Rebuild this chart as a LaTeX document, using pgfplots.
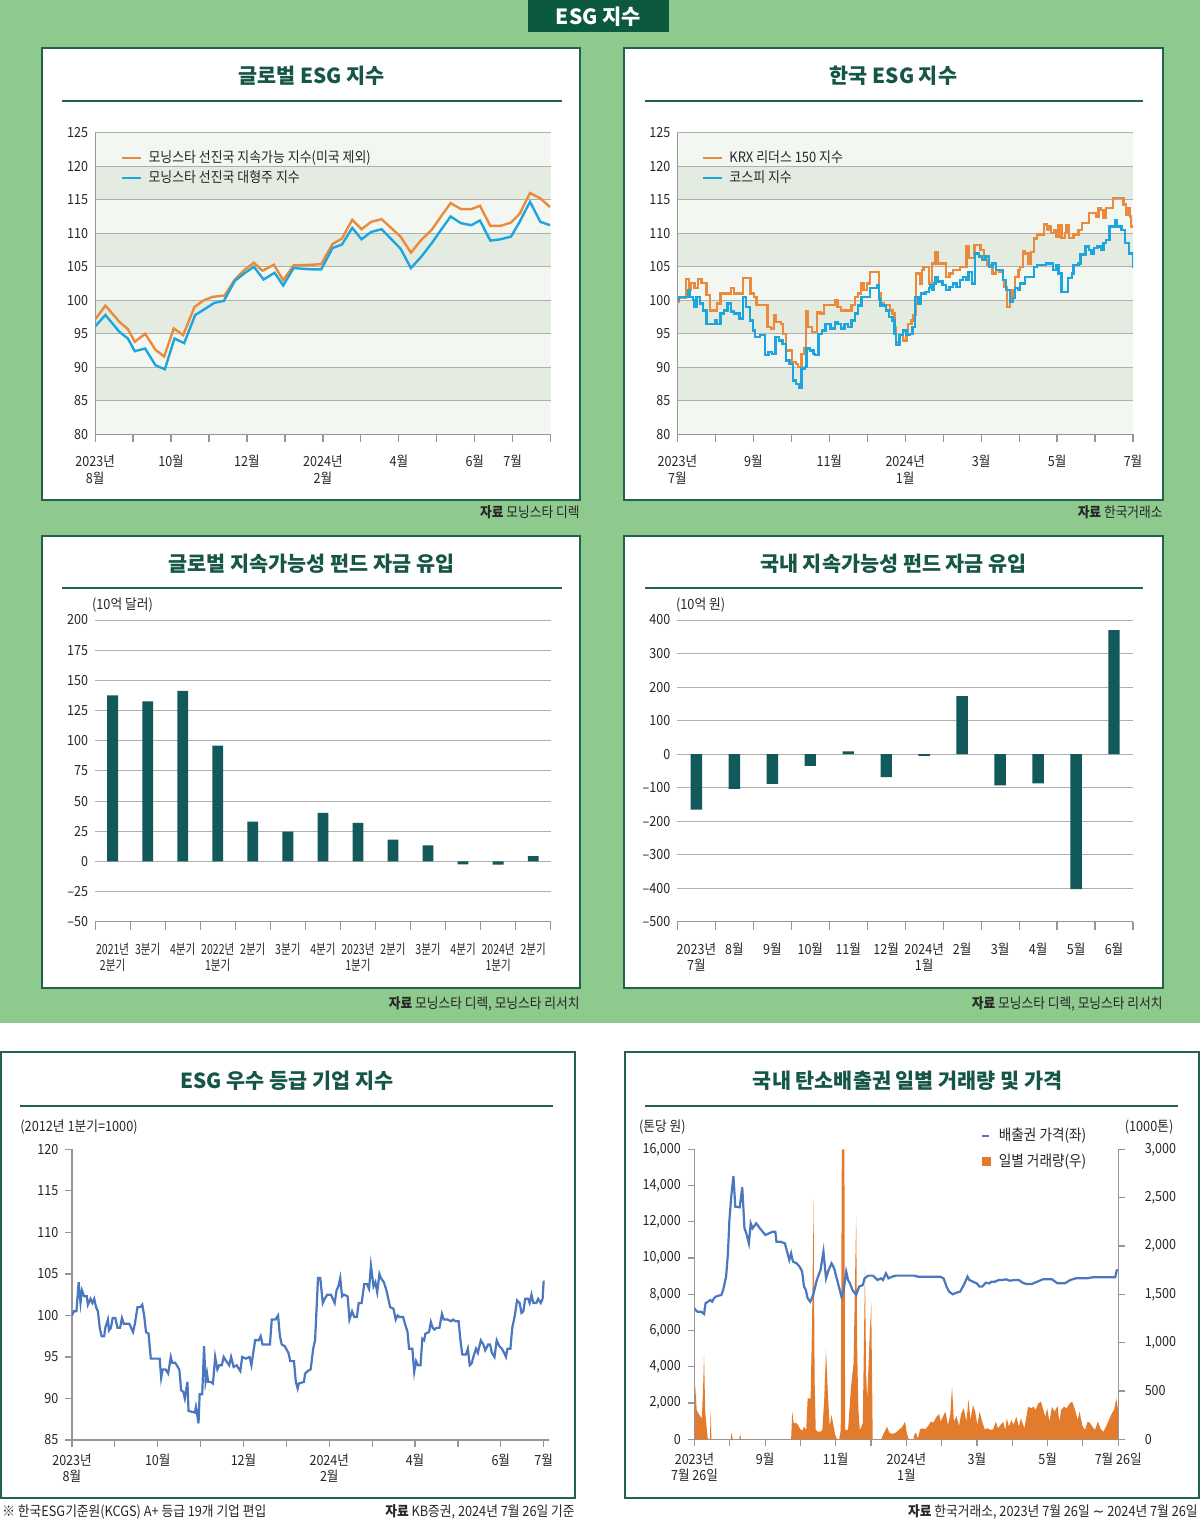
\documentclass[border=0pt]{standalone}
\usepackage{fontspec}
\setmainfont{Noto Sans CJK KR}[FakeStretch=0.9]
\newfontfamily\titlefont{Noto Sans CJK KR}
\newfontfamily\djv{DejaVu Sans}
\usepackage{pgfplots}
\pgfplotsset{compat=1.18}

\definecolor{bggreen}{RGB}{142,201,142}
\definecolor{hdgreen}{RGB}{12,90,62}
\definecolor{ttlgreen}{RGB}{22,86,70}
\definecolor{bordergreen}{RGB}{35,99,77}
\definecolor{barteal}{RGB}{18,89,91}
\definecolor{lineorange}{RGB}{233,138,60}
\definecolor{linecyan}{RGB}{29,166,221}
\definecolor{lineblue}{RGB}{74,119,191}
\definecolor{areaorange}{RGB}{226,123,43}
\definecolor{bandA}{RGB}{243,247,241}
\definecolor{bandB}{RGB}{228,236,226}
\definecolor{gridgray}{RGB}{175,175,175}
\definecolor{axgray}{RGB}{150,150,150}

\newcommand{\tk}{\fontsize{7}{8.2}\selectfont}
\newcommand{\src}{\fontsize{7.1}{8}\selectfont}

\pgfplotsset{
 base/.style={scale only axis, anchor=north west,
   /pgf/number format/assume math mode=true,
   tick label style={font=\tk, text=black!85},
   xticklabel style={align=center},
   axis line style={-, axgray, line width=0.6bp},
   tick style={axgray, line width=0.6bp},
   major tick length=4bp,
   xtick align=outside,
   ytick align=inside,
   grid style={gridgray, line width=0.5bp},
 },
 lgd/.style={
   legend style={draw=none, fill=none, anchor=north west,
     font=\fontsize{7.2}{8}\selectfont, row sep=0.2bp, inner sep=0pt,
     nodes={inner sep=1.2bp}, text=black!85,
     /tikz/every odd column/.append style={column sep=2bp}},
   legend cell align=left,
   legend image code/.code={\draw[##1, line width=1.3bp] (0bp,0bp) -- (9.5bp,0bp);},
 },
 bands/.style={scale only axis, anchor=north west, hide axis},
}

\begin{document}
\begin{tikzpicture}
\fill[white] (0,0) rectangle (600bp,-760bp);
\fill[bggreen] (0,0) rectangle (600bp,-511.5bp);

% header
\fill[hdgreen] (264bp,0bp) rectangle (334.5bp,-16bp);
\node[text=white, font=\titlefont\bfseries\fontsize{10.5}{12}\selectfont] at (299.25bp,-8.3bp) {ESG 지수};

% panels
\begin{scope}[draw=bordergreen, line width=1bp, fill=white]
\filldraw (21bp,-24bp) rectangle (290bp,-250bp);
\filldraw (312bp,-24bp) rectangle (581.5bp,-250bp);
\filldraw (21bp,-268bp) rectangle (290bp,-494bp);
\filldraw (312bp,-268bp) rectangle (581.5bp,-494bp);
\filldraw (0.5bp,-526bp) rectangle (287.5bp,-749bp);
\filldraw (312.5bp,-526bp) rectangle (599.5bp,-749bp);
\end{scope}

% titles
\begin{scope}[every node/.style={text=ttlgreen, font=\titlefont\bfseries\fontsize{10.4}{12}\selectfont}]
\node at (155.8bp,-38bp) {글로벌 ESG 지수};
\node at (446.75bp,-38bp) {한국 ESG 지수};
\node at (155.8bp,-282bp) {글로벌 지속가능성 펀드 자금 유입};
\node at (446.75bp,-282bp) {국내 지속가능성 펀드 자금 유입};
\node at (143.4bp,-540.5bp) {ESG 우수 등급 기업 지수};
\node at (453.9bp,-540.5bp) {국내 탄소배출권 일별 거래량 및 가격};
\end{scope}
\begin{scope}[draw=bordergreen, line width=0.8bp]
\draw (31bp,-50.35bp) -- (281bp,-50.35bp);
\draw (322.5bp,-50.35bp) -- (571.5bp,-50.35bp);
\draw (31bp,-294bp) -- (281bp,-294bp);
\draw (322.5bp,-294bp) -- (571.5bp,-294bp);
\draw (10bp,-553bp) -- (276.5bp,-553bp);
\draw (322.5bp,-553bp) -- (589bp,-553bp);
\end{scope}

% sources
\begin{scope}[every node/.style={font=\src, text=black!85, inner sep=0pt}]
\node[anchor=east] at (290bp,-256bp) {\textbf{자료} 모닝스타 디렉};
\node[anchor=east] at (581.5bp,-256bp) {\textbf{자료} 한국거래소};
\node[anchor=east] at (290bp,-502bp) {\textbf{자료} 모닝스타 디렉, 모닝스타 리서치};
\node[anchor=east] at (581.5bp,-502bp) {\textbf{자료} 모닝스타 디렉, 모닝스타 리서치};
\node[anchor=west] at (1bp,-756bp) {※ 한국ESG기준원(KCGS) A+ 등급 19개 기업 편입};
\node[anchor=east] at (287.5bp,-756bp) {\textbf{자료} KB증권, 2024년 7월 26일 기준};
\node[anchor=east] at (599bp,-756bp) {\textbf{자료} 한국거래소, 2023년 7월 26일 {\djv ∼} 2024년 7월 26일};
\end{scope}

% unit labels
\begin{scope}[every node/.style={font=\src, text=black!85, inner sep=0pt, anchor=west}]
\node at (45.85bp,-302.5bp) {(10억 달러)};
\node at (337.85bp,-302.5bp) {(10억 원)};
\node at (10bp,-563.3bp) {(2012년 1분기=1000)};
\node at (319.35bp,-563.35bp) {(톤당 원)};
\node at (562.2bp,-563.35bp) {(1000톤)};
\end{scope}

%================ Panel 1 =================
\begin{axis}[bands, at={(47.55bp,-66.35bp)}, width=227.8bp, height=150.8bp,
  xmin=160, xmax=1480, ymin=80, ymax=125]
\fill[bandA] (axis cs:160,80) rectangle (axis cs:1480,125);
\fill[bandB] (axis cs:160,85) rectangle (axis cs:1480,90);
\fill[bandB] (axis cs:160,95) rectangle (axis cs:1480,100);
\fill[bandB] (axis cs:160,105) rectangle (axis cs:1480,110);
\fill[bandB] (axis cs:160,115) rectangle (axis cs:1480,120);
\end{axis}
\begin{axis}[base, lgd,
  at={(47.55bp,-66.35bp)}, width=227.8bp, height=150.8bp,
  xmin=160, xmax=1480, ymin=80, ymax=125,
  axis lines*=left, tick pos=left,
  xtick={160,270,380,490,600,710,820,930,1040,1150,1260,1370,1480},
  xticklabels={{2023년\\8월},,{10월},,{12월},,{2024년\\2월},,{4월},,{6월},{7월},},
  xticklabel style={yshift=-3bp},
  ytick={80,85,...,125}, ytick style={draw=none},
  ymajorgrids,
  legend style={at={(0.055,0.95)}},
]
\addplot[lineorange, line width=1.2bp] coordinates {
(160,97.15)(190,99.2)(230,96.8)(255,95.7)(275,93.8)(305,95.0)(335,92.6)(360,91.6)(388,95.8)(415,94.8)(448,99.0)(475,100.0)(500,100.5)(535,100.7)(565,103.1)(592,104.5)(620,105.6)(645,104.4)(678,105.3)(705,103.0)(735,105.2)(790,105.3)(815,105.4)(848,108.4)(875,109.2)(905,112.0)(932,110.6)(960,111.7)(990,112.1)(1045,109.5)(1075,107.1)(1105,109.0)(1135,110.5)(1165,112.7)(1190,114.5)(1220,113.6)(1250,113.6)(1275,114.1)(1305,111.1)(1335,111.1)(1365,111.6)(1390,112.9)(1420,116.0)(1450,115.2)(1478,113.9)};
\addlegendentry{모닝스타 선진국 지속가능 지수(미국 제외)}
\addplot[linecyan, line width=1.2bp] coordinates {
(160,96.1)(190,97.8)(230,95.3)(255,94.3)(275,92.4)(305,92.8)(335,90.3)(362,89.7)(390,94.3)(418,93.6)(450,97.8)(475,98.6)(505,99.6)(533,99.9)(565,102.9)(592,104.0)(620,105.0)(648,103.1)(680,104.1)(705,102.2)(735,104.8)(790,104.6)(815,104.6)(848,107.8)(875,108.3)(905,110.8)(932,109.1)(960,110.2)(990,110.6)(1045,107.7)(1075,104.8)(1105,106.5)(1135,108.5)(1165,110.7)(1190,112.5)(1220,111.5)(1250,111.2)(1275,111.9)(1305,108.9)(1335,109.1)(1365,109.5)(1390,111.7)(1420,114.7)(1450,111.7)(1478,111.2)};
\addlegendentry{모닝스타 선진국 대형주 지수}
\end{axis}

%================ Panel 2 =================
\begin{axis}[bands, at={(338.7bp,-66.35bp)}, width=227.8bp, height=150.8bp,
  xmin=155, xmax=1478, ymin=80, ymax=125]
\fill[bandA] (axis cs:155,80) rectangle (axis cs:1478,125);
\fill[bandB] (axis cs:155,85) rectangle (axis cs:1478,90);
\fill[bandB] (axis cs:155,95) rectangle (axis cs:1478,100);
\fill[bandB] (axis cs:155,105) rectangle (axis cs:1478,110);
\fill[bandB] (axis cs:155,115) rectangle (axis cs:1478,120);
\end{axis}
\begin{axis}[base, lgd,
  at={(338.7bp,-66.35bp)}, width=227.8bp, height=150.8bp,
  xmin=155, xmax=1478, ymin=80, ymax=125,
  axis lines*=left, tick pos=left,
  xtick={155,265.25,375.5,485.75,596,706.25,816.5,926.75,1037,1147.25,1257.5,1367.75,1478},
  xticklabels={{2023년\\7월},,{9월},,{11월},,{2024년\\1월},,{3월},,{5월},,{7월}},
  xticklabel style={yshift=-3bp},
  ytick={80,85,...,125}, ytick style={draw=none},
  ymajorgrids,
  legend style={at={(0.052,0.95)}},
]
\addplot[lineorange, line width=1.2bp, const plot] coordinates {
(155,99.8)(160,100.3)(172,100.3)(180,103.2)(188,101.5)(195,102.6)(205,101.8)(215,103.2)(225,102.6)(235,102.6)(240,100.8)(250,98.5)(262,98.5)(270,99.5)(280,101.0)(300,101.0)(310,101.8)(320,101.0)(335,101.0)(345,103.3)(362,103.3)(367,101.0)(377,100.5)(385,99.3)(412,99.3)(417,96.0)(427,95.8)(435,97.8)(440,96.8)(455,96.5)(461,95.0)(470,92.5)(482,92.5)(488,90.8)(500,90.5)(506,90.0)(515,92.0)(522,92.8)(528,98.3)(535,96.0)(545,95.3)(556,95.3)(561,98.2)(570,98.0)(580,99.3)(602,99.3)(612,100.0)(620,99.0)(630,98.5)(655,98.5)(660,99.3)(670,100.5)(680,101.0)(688,102.5)(695,101.5)(705,102.5)(715,104.2)(735,104.2)(740,101.0)(745,99.5)(755,99.3)(767,99.3)(772,98.5)(780,98.0)(785,96.0)(790,93.7)(800,94.8)(810,94.0)(820,95.0)(825,96.5)(835,97.0)(840,97.8)(848,104.0)(856,104.0)(860,102.5)(865,104.5)(870,105.0)(882,105.0)(886,102.5)(895,105.5)(905,107.2)(912,105.5)(925,105.5)(935,103.5)(945,104.0)(955,104.5)(966,104.5)(975,105.0)(985,105.0)(995,108.0)(1000,106.3)(1010,106.3)(1018,108.2)(1030,108.2)(1035,107.5)(1045,106.0)(1055,105.3)(1065,105.0)(1070,104.0)(1080,104.5)(1090,104.2)(1100,103.0)(1105,102.0)(1112,99.0)(1120,100.0)(1125,101.5)(1130,100.5)(1135,103.5)(1145,104.5)(1150,105.0)(1158,107.3)(1165,107.0)(1175,105.5)(1182,107.2)(1190,109.2)(1200,109.8)(1215,109.8)(1220,111.3)(1228,110.5)(1235,111.0)(1240,110.0)(1250,110.5)(1255,109.5)(1262,111.2)(1270,109.3)(1280,110.0)(1285,111.2)(1292,109.3)(1305,109.8)(1315,109.8)(1320,110.5)(1330,111.5)(1345,111.5)(1350,113.0)(1360,113.0)(1370,112.5)(1378,113.8)(1385,113.5)(1392,112.3)(1400,113.8)(1410,113.8)(1420,115.3)(1440,115.3)(1450,114.3)(1458,112.8)(1465,113.8)(1470,112.5)(1473,111.0)(1478,110.8)};
\addlegendentry{KRX 리더스 150 지수}
\addplot[linecyan, line width=1.2bp, const plot] coordinates {
(155,100.0)(160,100.5)(175,100.5)(185,101.5)(190,100.5)(200,100.0)(205,99.0)(210,100.5)(220,99.5)(230,98.5)(240,96.5)(260,96.5)(265,97.0)(270,96.5)(280,98.0)(290,98.5)(300,99.5)(310,98.3)(320,98.0)(335,97.3)(345,100.5)(355,99.0)(365,97.0)(375,95.5)(380,94.5)(395,94.8)(405,94.8)(410,91.8)(420,92.3)(430,92.0)(440,94.5)(450,94.0)(460,93.5)(470,91.0)(480,90.5)(490,88.0)(500,87.5)(508,87.0)(515,89.8)(525,90.0)(530,92.8)(540,92.5)(550,92.0)(555,91.8)(565,95.0)(575,95.5)(585,96.5)(600,95.8)(612,96.8)(620,96.5)(630,95.8)(640,96.5)(650,96.0)(660,97.0)(670,98.0)(680,99.2)(690,100.5)(705,100.5)(715,101.8)(735,102.3)(740,100.2)(745,99.2)(760,98.5)(770,97.5)(780,97.0)(785,95.0)(790,93.3)(800,94.8)(810,95.5)(820,94.8)(830,95.0)(838,96.0)(845,100.5)(855,99.5)(862,101.0)(875,101.2)(885,101.8)(890,102.3)(895,101.5)(900,102.5)(905,103.5)(912,102.8)(925,102.3)(935,101.5)(945,102.0)(955,102.5)(965,102.0)(975,103.0)(985,103.5)(995,103.0)(1000,104.2)(1010,102.5)(1020,107.0)(1030,106.5)(1040,106.0)(1050,106.5)(1060,105.0)(1070,105.5)(1080,104.5)(1090,104.5)(1100,103.0)(1110,101.5)(1120,99.8)(1130,100.3)(1135,101.8)(1145,101.5)(1150,102.5)(1165,103.5)(1180,103.5)(1190,105.0)(1200,105.3)(1215,105.3)(1225,105.5)(1235,105.5)(1245,104.5)(1255,105.2)(1262,104.0)(1270,101.2)(1282,101.2)(1290,103.3)(1300,104.0)(1305,105.3)(1320,105.5)(1325,106.8)(1335,106.8)(1340,108.0)(1350,107.5)(1358,107.0)(1365,107.8)(1375,108.0)(1385,107.6)(1392,108.5)(1400,109.0)(1410,111.0)(1420,111.0)(1425,112.0)(1432,111.0)(1445,110.5)(1455,108.5)(1462,108.5)(1467,107.0)(1472,107.0)(1478,104.8)};
\addlegendentry{코스피 지수}
\end{axis}

%================ Panel 3 =================
\begin{axis}[base,
  at={(47.55bp,-310bp)}, width=227.8bp, height=150.85bp,
  xmin=-0.5, xmax=12.5, ymin=-50, ymax=200,
  axis lines*=left, tick pos=left, y axis line style={draw=none},
  xtick={0,...,12},
  xticklabels={{2021년\\2분기},{3분기},{4분기},{2022년\\1분기},{2분기},{3분기},{4분기},{2023년\\1분기},{2분기},{3분기},{4분기},{2024년\\1분기},{2분기}},
  xticklabel style={xscale=0.84, yshift=-3bp},
  major tick style={draw=none},
  minor xtick={-0.5,0.5,...,12.5}, minor tick length=4bp,
  minor tick style={draw=axgray, line width=0.6bp},
  ytick={-50,-25,...,200},
  yticklabels={–50,–25,0,25,50,75,100,125,150,175,200},
  ymajorgrids,
]
\addplot[ybar, bar width=5.4bp, fill=barteal, draw=none] coordinates {
(0,137.6)(1,132.6)(2,141.2)(3,95.9)(4,32.9)(5,24.6)(6,40.1)(7,31.8)(8,18.0)(9,13.3)(10,-2.5)(11,-2.8)(12,4.4)};
\end{axis}

%================ Panel 4 =================
\begin{axis}[base,
  at={(338.7bp,-310bp)}, width=227.8bp, height=150.85bp,
  xmin=-0.5, xmax=11.5, ymin=-500, ymax=400,
  axis lines*=left, tick pos=left, y axis line style={draw=none},
  xtick={0,...,11},
  xticklabels={{2023년\\7월},{8월},{9월},{10월},{11월},{12월},{2024년\\1월},{2월},{3월},{4월},{5월},{6월}},
  xticklabel style={yshift=-3bp},
  major tick style={draw=none},
  minor xtick={-0.5,0.5,...,11.5}, minor tick length=4bp,
  minor tick style={draw=axgray, line width=0.6bp},
  ytick={-500,-400,...,400},
  yticklabels={–500,–400,–300,–200,–100,0,100,200,300,400},
  ymajorgrids,
]
\addplot[ybar, bar width=5.7bp, fill=barteal, draw=none] coordinates {
(0,-166)(1,-104)(2,-89)(3,-35)(4,8)(5,-69)(6,-5)(7,173)(8,-93)(9,-87)(10,-403)(11,370)};
\end{axis}

%================ Panel 5 =================
\begin{axis}[base,
  at={(36bp,-574.65bp)}, width=238.25bp, height=145.35bp,
  xmin=195, xmax=1483, ymin=85, ymax=120,
  axis lines*=left, tick pos=left,
  xtick={195,310.9,426.8,542.7,658.6,774.5,890.4,1006.3,1122.2,1238.1,1354,1469.9},
  xticklabels={{2023년\\8월},,{10월},,{12월},,{2024년\\2월},,{4월},,{6월},{7월}},
  ytick={85,90,...,120}, ytick align=outside,
  major tick length=3.3bp,
]
\addplot[lineblue, line width=1.1bp] coordinates {
(195,100.0)(200,100.5)(207,100.5)(213,104.0)(218,101.5)(222,103.0)(228,102.3)(235,102.3)(238,101.3)(245,102.0)(250,101.5)(255,102.0)(260,101.0)(265,100.5)(270,98.5)(275,97.5)(282,97.5)(285,98.5)(292,99.5)(295,98.2)(300,98.5)(305,99.7)(312,99.7)(318,98.5)(325,98.5)(330,99.7)(335,99.0)(350,99.0)(360,98.0)(365,99.0)(372,101.0)(380,101.0)(385,101.3)(390,100.0)(395,98.0)(402,97.8)(408,94.8)(432,94.8)(436,92.5)(440,93.5)(448,93.5)(455,93.0)(462,95.0)(466,94.3)(474,94.3)(485,93.5)(490,91.0)(496,90.8)(500,90.0)(507,92.0)(510,88.5)(527,88.3)(530,89.0)(537,87.0)(540,90.5)(547,90.5)(552,96.3)(556,92.0)(560,93.0)(563,92.0)(570,92.0)(576,91.8)(582,95.0)(588,93.5)(593,94.0)(600,94.0)(605,95.0)(612,94.5)(620,94.0)(625,95.0)(632,93.8)(640,94.0)(650,93.3)(655,95.0)(665,94.8)(675,95.0)(680,94.0)(690,97.0)(700,97.0)(705,97.5)(710,96.5)(730,96.5)(735,99.5)(745,99.5)(752,100.0)(757,97.5)(762,96.5)(770,96.3)(780,95.5)(785,94.5)(795,94.5)(800,92.0)(805,91.2)(808,91.8)(822,92.0)(825,93.0)(832,93.3)(840,93.5)(847,96.0)(852,97.0)(860,104.5)(866,104.5)(873,101.5)(878,102.0)(885,102.5)(895,102.5)(900,102.0)(905,101.5)(910,103.0)(915,103.5)(920,104.5)(925,102.3)(930,102.5)(940,102.3)(945,99.5)(952,100.5)(958,99.8)(965,99.8)(970,101.5)(978,101.5)(985,103.8)(992,103.8)(998,103.2)(1003,106.0)(1010,103.5)(1015,104.0)(1020,102.8)(1026,105.0)(1030,104.5)(1038,104.0)(1045,103.0)(1050,102.0)(1055,101.0)(1064,100.8)(1070,99.5)(1075,100.0)(1080,99.8)(1090,99.8)(1095,99.0)(1102,98.0)(1106,96.0)(1115,96.0)(1120,93.2)(1125,94.5)(1130,94.0)(1137,94.0)(1142,97.2)(1147,97.0)(1150,97.8)(1160,98.0)(1165,99.2)(1170,98.5)(1175,98.3)(1180,98.5)(1188,98.5)(1195,100.2)(1200,99.5)(1210,99.5)(1220,99.3)(1225,99.5)(1232,99.3)(1240,99.3)(1245,97.0)(1250,95.3)(1260,95.3)(1265,96.0)(1270,94.0)(1275,94.2)(1280,95.0)(1287,96.0)(1292,95.5)(1300,97.0)(1307,96.5)(1312,95.8)(1320,96.5)(1325,96.5)(1330,95.5)(1337,95.0)(1343,97.0)(1350,96.3)(1357,96.0)(1363,95.5)(1368,95.0)(1372,96.0)(1380,96.0)(1385,98.5)(1392,100.0)(1398,101.8)(1405,101.5)(1410,100.3)(1415,100.5)(1420,102.0)(1428,102.0)(1432,101.5)(1437,102.5)(1442,101.5)(1450,101.5)(1455,102.0)(1462,101.5)(1467,102.0)(1470,104.2)};
\end{axis}

%================ Panel 6: volume (right axis) =================
\begin{axis}[base,
  at={(347.25bp,-574.65bp)}, width=211.8bp, height=145bp,
  xmin=192, xmax=1345, ymin=0, ymax=3000,
  axis x line*=bottom, axis y line*=right, xtick pos=left, ytick pos=right,
  xtick={192,288.1,384.2,480.3,576.4,672.5,768.6,864.7,960.8,1056.9,1153,1249.1,1345.2},
  xticklabels={{2023년\\7월 26일},,{9월},,{11월},,{2024년\\1월},,{3월},,{5월},,{7월 26일}},
  ytick={0,500,...,3000},
  yticklabels={0,500,{1,000},{1,500},{2,000},{2,500},{3,000}},
  scaled y ticks=false,
  ytick align=outside, major tick length=3.3bp,
  yticklabel style={xshift=6.5bp},
]
\addplot[fill=areaorange, draw=none] coordinates {
(192,476)(194,545)(198,303)(205,252)(212,217)(216,600)(218,880)(221,300)(224,165)(228,10)(232,0)(234,0)(236,303)(238,0)(290,0)(293,69)(296,0)(314,0)(316,55)(319,0)(455,0)(458,286)(462,165)(468,172)(474,148)(480,103)(486,90)(490,131)(496,97)(500,424)(508,424)(512,1200)(516,2476)(519,600)(522,97)(528,79)(535,79)(540,97)(545,407)(550,924)(555,476)(560,131)(565,252)(570,148)(575,45)(580,0)(586,0)(590,97)(593,3000)(600,3000)(602,97)(610,97)(618,545)(625,786)(632,2303)(635,900)(638,303)(642,97)(650,165)(656,1752)(659,700)(662,407)(668,993)(673,1407)(676,400)(677,0)(700,0)(705,45)(712,97)(716,131)(722,69)(730,55)(740,69)(750,103)(758,131)(765,183)(770,62)(775,0)(788,0)(790,45)(795,69)(800,10)(806,103)(812,114)(820,103)(828,138)(835,183)(842,172)(850,228)(858,262)(862,183)(868,234)(875,286)(882,148)(888,252)(893,545)(898,183)(905,241)(912,138)(918,269)(925,321)(932,183)(938,414)(943,200)(950,355)(956,286)(962,148)(968,286)(975,183)(982,103)(990,114)(998,97)(1005,103)(1012,183)(1018,114)(1025,148)(1032,183)(1038,97)(1042,217)(1048,131)(1055,200)(1060,148)(1068,234)(1075,131)(1080,217)(1090,114)(1100,338)(1108,321)(1115,338)(1120,303)(1128,372)(1135,390)(1140,321)(1147,234)(1152,321)(1158,183)(1165,338)(1172,286)(1180,345)(1185,183)(1190,303)(1198,338)(1205,321)(1212,365)(1220,390)(1228,303)(1235,200)(1240,286)(1248,138)(1255,97)(1262,183)(1268,172)(1275,131)(1282,97)(1290,183)(1298,103)(1305,79)(1312,131)(1320,200)(1328,269)(1334,303)(1340,424)(1345,303)} \closedcycle;
\end{axis}

%================ Panel 6: price (left axis) =================
\begin{axis}[base,
  at={(347.25bp,-574.65bp)}, width=211.8bp, height=145bp,
  xmin=192, xmax=1345, ymin=0, ymax=16000,
  axis x line=none, axis y line*=left, ytick pos=left, xtick=\empty,
  ytick={0,2000,...,16000},
  yticklabels={0,{2,000},{4,000},{6,000},{8,000},{10,000},{12,000},{14,000},{16,000}},
  scaled y ticks=false,
  ytick align=outside, major tick length=3.3bp,
  legend style={draw=none, fill=none, anchor=north west, at={(0.675,1.083)},
     font=\fontsize{7.6}{8.5}\selectfont, row sep=2.8bp, inner sep=0pt,
     nodes={inner sep=1.2bp}, text=black!85,
     /tikz/every odd column/.append style={column sep=3bp}},
  legend cell align=left,
]
\addplot[lineblue, line width=1.1bp,
  legend image code/.code={\draw[lineblue, line width=1.2bp] (0bp,0bp) -- (3.6bp,0bp);}] coordinates {
(192,7228)(195,7135)(200,7043)(210,7043)(218,6915)(222,7503)(235,7687)(240,7595)(245,7779)(250,7871)(258,7926)(265,7963)(270,8239)(278,8974)(283,10262)(287,12100)(292,13388)(298,14528)(303,12836)(315,12800)(322,13903)(328,11640)(333,11365)(340,10813)(345,11917)(350,11640)(360,11917)(370,11640)(385,11273)(395,11365)(405,11457)(412,11457)(415,10905)(425,10905)(438,10813)(444,10354)(450,9894)(455,10262)(460,9802)(470,9710)(478,9526)(485,9250)(490,8423)(495,8239)(500,7779)(507,7595)(515,7963)(525,8790)(535,9342)(543,10354)(550,8882)(557,9342)(565,9710)(572,9434)(578,8974)(585,8423)(592,7871)(598,8239)(605,9250)(610,8790)(615,8606)(622,8239)(632,7963)(640,8423)(650,8514)(655,8882)(665,9030)(678,9030)(690,8790)(700,8882)(705,8790)(713,9158)(720,8882)(730,8974)(740,9030)(790,9030)(800,8974)(860,8974)(870,8882)(878,8423)(885,8147)(895,8000)(905,8092)(915,8147)(925,8514)(935,8974)(940,8790)(950,8698)(960,8606)(968,8423)(975,8423)(985,8643)(995,8606)(1000,8698)(1010,8698)(1020,8790)(1030,8790)(1040,8827)(1050,8753)(1065,8790)(1075,8790)(1085,8643)(1095,8570)(1110,8570)(1125,8698)(1140,8827)(1165,8827)(1180,8606)(1200,8606)(1215,8790)(1230,8882)(1260,8882)(1275,8937)(1320,8937)(1337,8937)(1342,9379)};
\addlegendentry{배출권 가격(좌)}
\addlegendimage{legend image code/.code={\fill[areaorange] (0bp,-2bp) rectangle (4bp,2bp);}}
\addlegendentry{일별 거래량(우)}
\end{axis}

\pgfresetboundingbox
\useasboundingbox (0,0) rectangle (600bp,-760bp);
\end{tikzpicture}
\end{document}
